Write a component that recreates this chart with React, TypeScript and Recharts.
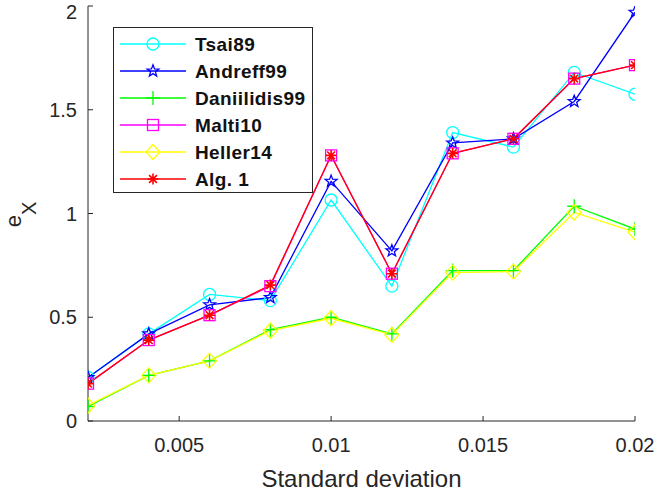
import React from 'react';
import { LineChart, Line, XAxis, YAxis, Legend } from 'recharts';

const xValues = [0.002, 0.004, 0.006, 0.008, 0.01, 0.012, 0.014, 0.016, 0.018, 0.02];
const tsai89 = [0.21, 0.42, 0.61, 0.58, 1.065, 0.65, 1.39, 1.32, 1.68, 1.575];
const andreff99 = [0.21, 0.42, 0.56, 0.595, 1.155, 0.82, 1.34, 1.36, 1.54, 1.97];
const daniilidis99 = [0.07, 0.22, 0.29, 0.44, 0.5, 0.42, 0.725, 0.725, 1.035, 0.925];
const malti10 = [0.18, 0.39, 0.51, 0.65, 1.28, 0.71, 1.29, 1.36, 1.65, 1.715];
const heller14 = [0.075, 0.22, 0.29, 0.435, 0.495, 0.415, 0.715, 0.72, 1.005, 0.91];
const alg1 = [0.18, 0.39, 0.51, 0.655, 1.28, 0.71, 1.29, 1.36, 1.65, 1.715];

const seriesNames = ['Tsai89', 'Andreff99', 'Daniilidis99', 'Malti10', 'Heller14', 'Alg. 1'];
const seriesKeys = ['tsai89', 'andreff99', 'daniilidis99', 'malti10', 'heller14', 'alg1'];
const seriesColors = ['#00FFFF', '#0000FF', '#00FF00', '#FF00FF', '#FFFF00', '#FF0000'];
const seriesMarkers = ['circle', 'star', 'plus', 'square', 'diamond', 'asterisk'];
const seriesValues = [tsai89, andreff99, daniilidis99, malti10, heller14, alg1];

const xTicks = [0.005, 0.01, 0.015, 0.02];
const xTickLabels = ['0.005', '0.01', '0.015', '0.02'];
const yTicks = [0, 0.5, 1, 1.5, 2];
const yTickLabels = ['0', '0.5', '1', '1.5', '2'];

const xLabel = 'Standard deviation';

const data = xValues.map((x, i) => {
  const row: Record<string, number> = { x };
  seriesKeys.forEach((k, j) => {
    row[k] = seriesValues[j][i];
  });
  return row;
});

const FONT = '"Liberation Sans", Arial, Helvetica, sans-serif';
const AXIS = '#262626';
const SW = 1.3;

function Marker({ shape, cx, cy, color }: { shape: string; cx: number; cy: number; color: string }) {
  if (cx == null || cy == null || isNaN(cx) || isNaN(cy)) return null;
  const common = { fill: 'none', stroke: color, strokeWidth: SW };
  switch (shape) {
    case 'circle':
      return <circle cx={cx} cy={cy} r={6} {...common} />;
    case 'star': {
      const pts: string[] = [];
      for (let k = 0; k < 10; k++) {
        const r = k % 2 === 0 ? 6.2 : 2.6;
        const a = -Math.PI / 2 + (k * Math.PI) / 5;
        pts.push(`${cx + r * Math.cos(a)},${cy + r * Math.sin(a)}`);
      }
      return <polygon points={pts.join(' ')} {...common} />;
    }
    case 'plus':
      return <path d={`M${cx - 7},${cy}H${cx + 7}M${cx},${cy - 7}V${cy + 7}`} {...common} />;
    case 'square':
      return <rect x={cx - 5.5} y={cy - 5.5} width={11} height={11} {...common} />;
    case 'diamond':
      return (
        <polygon
          points={`${cx},${cy - 7.5} ${cx + 7},${cy} ${cx},${cy + 7.5} ${cx - 7},${cy}`}
          {...common}
        />
      );
    case 'asterisk': {
      const r = 5.5;
      const d = 3.9;
      return (
        <path
          d={`M${cx - r},${cy}H${cx + r}M${cx},${cy - r}V${cy + r}M${cx - d},${cy - d}L${cx + d},${cy + d}M${cx - d},${cy + d}L${cx + d},${cy - d}`}
          {...common}
          strokeWidth={1.6}
        />
      );
    }
    default:
      return null;
  }
}

function LegendBox() {
  const w = 199;
  const h = 165;
  return (
    <svg width={w + 2} height={h + 2} style={{ display: 'block' }}>
      <rect x={0.5} y={0.5} width={w} height={h} fill="#ffffff" stroke={AXIS} strokeWidth={1} />
      {seriesNames.map((name, i) => {
        const y = 17 + i * 27;
        return (
          <g key={name}>
            <line x1={7} x2={73} y1={y} y2={y} stroke={seriesColors[i]} strokeWidth={SW} />
            <Marker shape={seriesMarkers[i]} cx={40} cy={y} color={seriesColors[i]} />
            <text
              x={82}
              y={y}
              dy="0.36em"
              fontFamily={FONT}
              fontSize={19}
              fontWeight="bold"
              letterSpacing={0.4}
              fill="#111111"
            >
              {name}
            </text>
          </g>
        );
      })}
    </svg>
  );
}

function YLabel() {
  const x = 20.7;
  const y = 227.3;
  return (
    <text
      x={x}
      y={y}
      transform={`rotate(-90, ${x}, ${y})`}
      fontFamily={FONT}
      fontSize={22}
      fill={AXIS}
      textAnchor="start"
    >
      <tspan>e</tspan>
      <tspan dy={15} fontSize={20}>X</tspan>
    </text>
  );
}

export default function App() {
  return (
    <div style={{ position: 'absolute', left: 0, top: 0, width: 656, height: 495, background: '#ffffff' }}>
      <LineChart width={656} height={495} data={data} margin={{ top: 6, right: 21, bottom: 0, left: 0 }}>
        <XAxis
          dataKey="x"
          type="number"
          domain={[0.002, 0.02]}
          ticks={xTicks}
          tickFormatter={(v: number) => xTickLabels[xTicks.indexOf(v)] ?? String(v)}
          height={74}
          tickSize={-5}
          tickMargin={22}
          axisLine={{ stroke: AXIS, strokeWidth: 1 }}
          tickLine={{ stroke: AXIS, strokeWidth: 1 }}
          tick={{ fill: AXIS, fontSize: 20, fontFamily: FONT }}
          allowDataOverflow
          label={{
            value: xLabel,
            position: 'insideBottom',
            offset: 8,
            fill: AXIS,
            fontSize: 24,
            fontFamily: FONT,
          }}
        />
        <XAxis
          xAxisId="top"
          orientation="top"
          dataKey="x"
          type="number"
          domain={[0.002, 0.02]}
          ticks={xTicks}
          height={0}
          tickSize={-5}
          tick={false}
          axisLine={{ stroke: AXIS, strokeWidth: 1 }}
          tickLine={{ stroke: AXIS, strokeWidth: 1 }}
          allowDataOverflow
        />
        <YAxis
          type="number"
          domain={[0, 2]}
          ticks={yTicks}
          tickFormatter={(v: number) => yTickLabels[yTicks.indexOf(v)] ?? String(v)}
          width={88}
          tickSize={-5}
          tickMargin={16}
          axisLine={{ stroke: AXIS, strokeWidth: 1 }}
          tickLine={{ stroke: AXIS, strokeWidth: 1 }}
          tick={{ fill: AXIS, fontSize: 20, fontFamily: FONT }}
          allowDataOverflow
          label={{ content: () => <YLabel /> }}
        />
        <YAxis
          yAxisId="right"
          orientation="right"
          type="number"
          domain={[0, 2]}
          ticks={yTicks}
          width={0}
          tickSize={-5}
          tick={false}
          axisLine={{ stroke: AXIS, strokeWidth: 1 }}
          tickLine={{ stroke: AXIS, strokeWidth: 1 }}
          allowDataOverflow
        />
        <Legend
          layout="vertical"
          align="center"
          verticalAlign="middle"
          wrapperStyle={{ left: 113, top: 27, width: 201, height: 167 }}
          content={() => <LegendBox />}
        />
        {seriesKeys.map((k, i) => (
          <Line
            key={k}
            dataKey={k}
            name={seriesNames[i]}
            stroke={seriesColors[i]}
            strokeWidth={SW}
            isAnimationActive={false}
            dot={(p: any) => (
              <Marker
                key={`${k}-${p.index}`}
                shape={seriesMarkers[i]}
                cx={p.cx}
                cy={p.cy}
                color={seriesColors[i]}
              />
            )}
            activeDot={false}
          />
        ))}
      </LineChart>
    </div>
  );
}
